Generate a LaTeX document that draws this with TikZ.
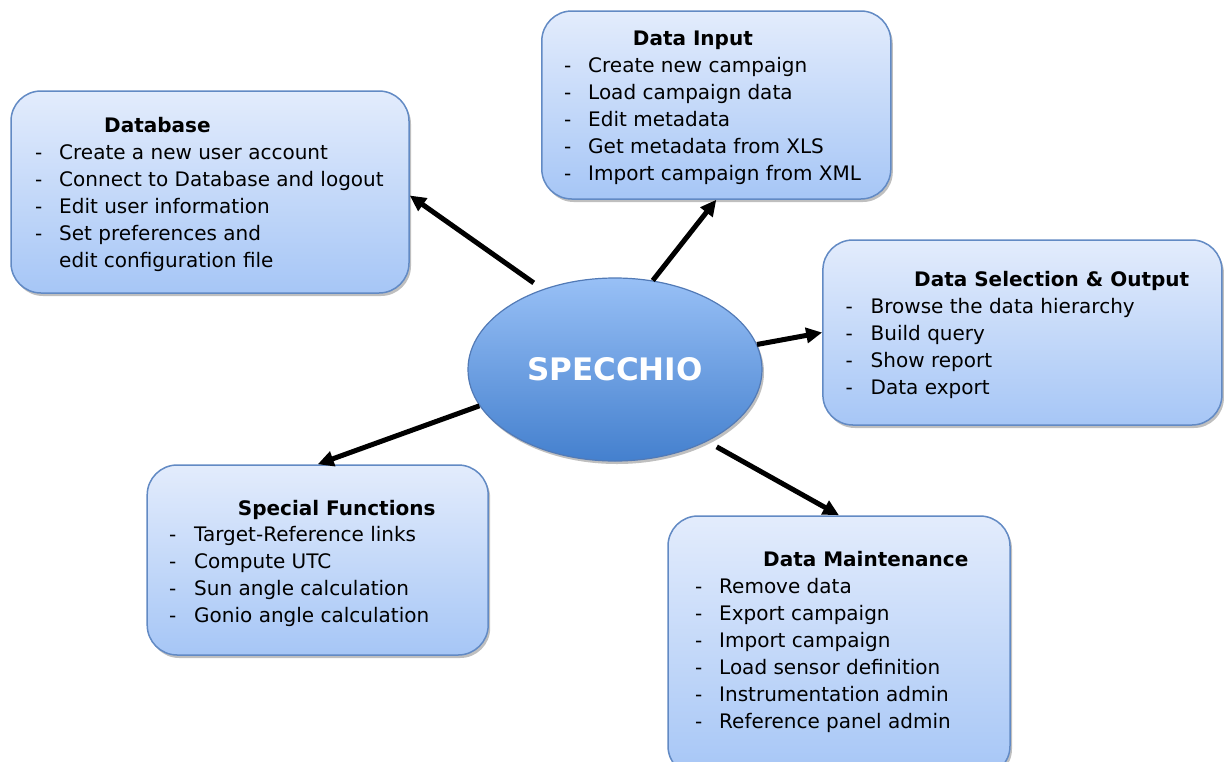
\documentclass[tikz,border=0pt]{standalone}
\usepackage{fontspec}
\setmainfont{DejaVu Sans}
\usetikzlibrary{shapes.geometric,arrows.meta,shadows}
\definecolor{boxtop}{RGB}{227,236,252}
\definecolor{boxbot}{RGB}{166,198,246}
\definecolor{boxline}{RGB}{98,138,196}
\definecolor{elltop}{RGB}{152,192,246}
\definecolor{ellbot}{RGB}{68,128,206}
\definecolor{ellline}{RGB}{82,122,182}
\begin{document}
\begin{tikzpicture}[x=1pt,y=-1pt,
  box/.style={draw=boxline, line width=1.5pt, rounded corners=30pt, top color=boxtop, bottom color=boxbot,
    drop shadow={shadow xshift=2pt,shadow yshift=-3pt,opacity=0.25,fill=black}, inner sep=0pt},
  ell/.style={ellipse, draw=ellline, line width=1.2pt, top color=elltop, bottom color=ellbot, inner sep=0pt,
    drop shadow={shadow xshift=2pt,shadow yshift=-3pt,opacity=0.25,fill=black},
    text=white, font=\fontsize{31}{36}\selectfont\bfseries},
  ttl/.style={anchor=base west, inner sep=0pt, font=\fontsize{20}{24}\selectfont\bfseries},
  itm/.style={anchor=base west, inner sep=0pt, font=\fontsize{20}{24}\selectfont},
  arr/.style={line width=5pt, -{Triangle[length=16pt,width=15pt]}}]
\clip (0,0) rectangle (1227,761);
\fill[white] (0,0) rectangle (1227,761);

% boxes
\node[box, minimum width=398pt, minimum height=202pt] (db) at (210,192) {};
\node[box, minimum width=349pt, minimum height=188pt] (di) at (716.3,105) {};
\node[box, minimum width=399pt, minimum height=185pt] (ds) at (1022.4,332.5) {};
\node[box, minimum width=341pt, minimum height=190pt] (sf) at (317.7,560) {};
\node[box, minimum width=342pt, minimum height=260pt] (dm) at (839,646) {};

% centre
\node[ell, minimum width=294pt, minimum height=183pt] (sp) at (615,369.5) {SPECCHIO};

% Database
\node[ttl] (dbt) at (104,132.7) {Database};
\foreach \t [count=\i] in {Create a new user account, Connect to Database and logout, Edit user information, Set preferences and, edit configuration file}
  \node[itm] (dbi\i) at (59,{132.3+27*\i}) {\t};
\foreach \i in {1,...,4}
  \node[itm] (dbd\i) at (35,{132.3+27*\i}) {-};

% Data Input
\node[ttl] (dit) at (632.7,45.7) {Data Input};
\foreach \t [count=\i] in {Create new campaign, Load campaign data, Edit metadata, Get metadata from XLS, Import campaign from XML}
  {\node[itm] (dii\i) at (588,{45.5+27*\i}) {\t};
   \node[itm] (did\i) at (564,{45.5+27*\i}) {-};}

% Data Selection & Output
\node[ttl] (dst) at (914,286.7) {Data Selection \& Output};
\foreach \t [count=\i] in {Browse the data hierarchy, Build query, Show report, Data export}
  {\node[itm] (dsi\i) at (870.5,{286.3+27*\i}) {\t};
   \node[itm] (dsd\i) at (845.5,{286.3+27*\i}) {-};}

% Special Functions
\node[ttl] (sft) at (237.7,515) {Special Functions};
\foreach \t [count=\i] in {Target-Reference links, Compute UTC, Sun angle calculation, Gonio angle calculation}
  {\node[itm] (sfi\i) at (194,{514.7+27*\i}) {\t};
   \node[itm] (sfd\i) at (169,{514.7+27*\i}) {-};}

% Data Maintenance
\node[ttl] (dmt) at (763,566.7) {Data Maintenance};
\foreach \t [count=\i] in {Remove data, Export campaign, Import campaign, Load sensor definition, Instrumentation admin, Reference panel admin}
  {\node[itm] (dmi\i) at (719,{566.3+27*\i}) {\t};
   \node[itm] (dmd\i) at (695,{566.3+27*\i}) {-};}

% arrows
\draw[arr, shorten <=11pt] (sp.132) -- (db.-1);
\draw[arr] (sp.67) -- (di.south);
\draw[arr] (sp.10) -- (ds.west);
\draw[arr] (sp.195) -- (sf.north);
\draw[arr, shorten <=11pt] (sp.-38) -- (dm.north);
\end{tikzpicture}
\end{document}
